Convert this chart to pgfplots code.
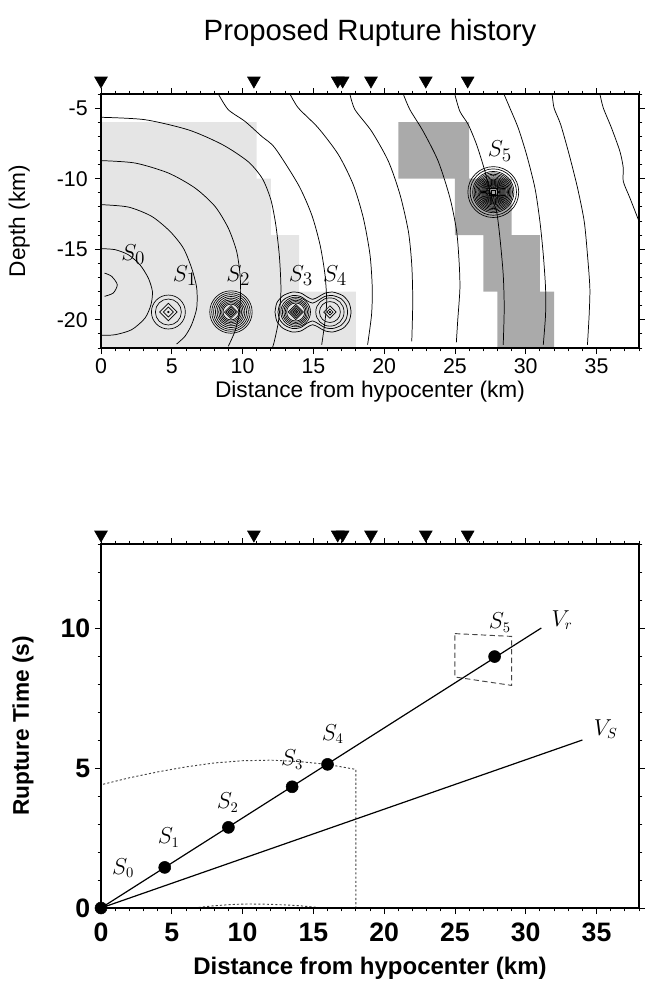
\documentclass[border=0pt]{standalone}
\usepackage[no-math]{fontspec}
\setmainfont{Liberation Sans}
\usepackage{pgfplots}
\pgfplotsset{compat=1.18}

\definecolor{lightslip}{HTML}{E5E5E5}
\definecolor{darkslip}{HTML}{AAAAAA}
\definecolor{guide}{HTML}{444444}

% 1 km = 10.6pt on both panels
\pgfplotsset{
  ring/.style={only marks, mark=o, black, mark options={line width=0.5pt}},
  diam/.style={only marks, mark=square, black, mark options={rotate=45, line width=0.5pt}},
  contour/.style={black, line width=0.55pt, smooth, tension=0.45},
  stations/.style={only marks, mark=triangle*, mark size=5.5pt, black,
    mark options={yshift=#1, rotate=180, fill=black}},
  frame/.style={
    scale only axis, width=403.5pt, clip=false, axis on top,
    xmin=0, xmax=38, xtick={0,5,...,35}, minor xtick={0,...,38},
    tick align=outside, major tick length=4.5pt, minor tick length=2.5pt,
    tick style={black, line width=0.6pt},
    axis line style={line width=0.8pt},
    /pgf/number format/assume math mode=true},
}

\begin{document}
\begin{tikzpicture}
\useasboundingbox (-75.75pt,261pt) rectangle (411.75pt,-476.25pt);

% ---------------- top panel: slip patches and rupture front ----------------
\begin{axis}[frame,
  at={(0,0)}, anchor=south west, height=190.5pt,
  ymin=-22, ymax=-4, ytick={-20,-15,-10,-5}, minor ytick={-22,...,-4},
  tick label style={font=\fontsize{16}{18}\selectfont},
  yticklabel style={xshift=-2pt},
  title={Proposed Rupture history},
  title style={font=\fontsize{22}{26}\selectfont, at={(axis description cs:0.5,1)},
    anchor=center, yshift=40pt},
  xlabel={Distance from hypocenter (km)},
  xlabel style={font=\fontsize{17}{20}\selectfont, at={(axis description cs:0.5,-0.17)}, anchor=center},
  ylabel={Depth (km)},
  ylabel style={font=\fontsize{17}{20}\selectfont, at={(axis description cs:-0.152,0.5)}, anchor=center},
]
% slip areas
\addplot[fill=lightslip, draw=none] coordinates {
  (0,-6)(11,-6)(11,-10)(12,-10)(12,-14)(14,-14)(14,-18)(18,-18)(18,-22)(0,-22)} -- cycle;
\addplot[fill=darkslip, draw=none] coordinates {
  (21,-6)(26,-6)(26,-10)(29,-10)(29,-14)(31,-14)(31,-18)(32,-18)(32,-22)
  (28,-22)(28,-18)(27,-18)(27,-14)(25,-14)(25,-10)(21,-10)} -- cycle;

% rupture time contours
\addplot[contour] coordinates {(0.25,-16.69)(0.75,-16.92)(1.15,-17.51)(0.87,-18.1)(0.25,-18.34)};
\addplot[contour] coordinates {(0,-14.96)(0.99,-15.03)(1.93,-15.39)(2.75,-16.1)(3.34,-17.04)(3.63,-17.99)
  (3.53,-18.93)(3.11,-19.88)(2.17,-20.7)(0.99,-21.06)(0,-21.1)};
\addplot[contour] coordinates {(0,-11.84)(1.93,-12.01)(3.58,-12.67)(4.87,-13.73)(5.81,-14.91)(6.4,-16.33)
  (6.76,-17.75)(6.76,-19.17)(6.4,-20.35)(5.93,-21.17)(5.34,-21.72)};
\addplot[contour] coordinates {(0,-8.72)(2.4,-8.89)(4.76,-9.6)(6.64,-10.66)(8.05,-11.96)(8.99,-13.5)
  (9.58,-15.15)(9.82,-16.8)(9.86,-18.22)(9.75,-19.64)(9.46,-20.82)(8.99,-21.88)};
\addplot[contour] coordinates {(0,-5.65)(3.1,-5.82)(6.2,-6.55)(8.6,-7.6)(10.4,-8.8)(11.4,-10.0)(12.0,-11.5)
  (12.35,-13.3)(12.6,-15.5)(12.71,-17.9)(12.55,-20.0)(12.25,-21.5)(12.1,-22)};
\addplot[contour] coordinates {(8.29,-4)(8.99,-5.11)(10.17,-5.94)(11.35,-7.0)(12.29,-7.83)(13.94,-10.43)
  (14.88,-12.55)(15.47,-14.68)(15.82,-16.8)(15.94,-18.69)(15.82,-20.11)(15.59,-21.77)};
\addplot[contour] coordinates {(13.35,-4)(13.94,-4.99)(15.35,-6.41)(16.77,-8.3)(17.82,-10.43)(18.53,-12.79)
  (19.0,-15.39)(19.16,-17.75)(19.11,-19.64)(18.83,-21.77)};
\addplot[contour] coordinates {(17.58,-4)(17.94,-5.11)(19.12,-6.65)(20.3,-8.77)(21.12,-11.13)(21.71,-13.73)
  (21.95,-16.1)(22.02,-18.69)(21.95,-21.53)};
\addplot[contour] coordinates {(21.35,-4)(21.82,-5.11)(22.76,-6.65)(23.82,-8.77)(24.65,-11.37)(25.12,-13.73)
  (25.3,-16)(25.35,-17.8)(25.2,-20)(25.1,-21.6)};
\addplot[contour] coordinates {(25.0,-4.05)(25.35,-5.23)(25.94,-6.17)(26.53,-7.59)(27.12,-9.48)(27.59,-11.37)
  (27.94,-12.32)(28.18,-14.21)(28.41,-16.8)(28.48,-19.17)(28.41,-21.77)};
\addplot[contour] coordinates {(28.48,-4.05)(28.88,-4.99)(29.47,-6.41)(30.06,-8.3)(30.65,-10.66)(31.0,-13.02)
  (31.24,-15.39)(31.4,-17.75)(31.4,-19.64)(31.24,-21.77)};
\addplot[contour] coordinates {(31.87,-4)(32.0,-4.99)(32.47,-6.17)(33.07,-8.3)(33.66,-10.66)(34.13,-13.02)
  (34.36,-15.39)(34.53,-17.75)(34.48,-19.64)(34.36,-21.77)};
\addplot[contour] coordinates {(35.24,-4)(35.48,-4.99)(36.06,-6.41)(36.65,-8.06)(36.89,-9.24)(36.89,-10.19)
  (37.36,-11.37)(38.0,-13.02)};

% slip contours of the subevents (ring radii in km)
\pgfplotsinvokeforeach{1.2,0.92}{
  \addplot[ring, mark size=10.6*#1] coordinates {(4.76,-19.45)};}
\pgfplotsinvokeforeach{0.62,0.35}{
  \addplot[diam, mark size=7.5*#1] coordinates {(4.76,-19.45)};}
\pgfplotsinvokeforeach{1.5,1.36,1.23,1.1,0.98,0.87,0.76,0.66,0.56}{
  \addplot[ring, mark size=10.6*#1] coordinates {(9.18,-19.45)};}
\pgfplotsinvokeforeach{0.46,0.34,0.22,0.1}{
  \addplot[diam, mark size=7.5*#1] coordinates {(9.18,-19.45)};}
\pgfplotsinvokeforeach{1.05,0.94,0.84,0.74,0.64}{
  \addplot[ring, mark size=10.6*#1] coordinates {(13.75,-19.45)};}
\pgfplotsinvokeforeach{0.54,0.42,0.3,0.18,0.08}{
  \addplot[diam, mark size=7.5*#1] coordinates {(13.75,-19.45)};}
\pgfplotsinvokeforeach{1.0,0.74}{
  \addplot[ring, mark size=10.6*#1] coordinates {(16.17,-19.45)};}
\pgfplotsinvokeforeach{0.44,0.22}{
  \addplot[diam, mark size=7.5*#1] coordinates {(16.17,-19.45)};}
\pgfplotsinvokeforeach{1.8,1.64,1.46,1.36,1.26,1.17,1.08,1.0,0.92,0.84,0.77,0.7,0.63,0.56,0.5,0.44,0.38,0.32}{
  \addplot[ring, mark size=10.6*#1] coordinates {(27.71,-10.95)};}
\pgfplotsinvokeforeach{0.25,0.15}{
  \addplot[only marks, mark=square, black, mark options={line width=0.5pt}, mark size=10.6*#1]
    coordinates {(27.71,-10.95)};}
\addplot[only marks, mark=*, mark size=0.6pt, black] coordinates {(4.76,-19.45)(16.17,-19.45)};
\addplot[contour] coordinates {(12.29,-19.45)(12.42,-18.8)(12.85,-18.3)(13.5,-18.04)(14.1,-18.1)(14.6,-18.4)
  (14.95,-18.55)(15.35,-18.38)(15.8,-18.12)(16.4,-18.04)(17.1,-18.3)(17.52,-18.8)(17.66,-19.45)
  (17.52,-20.1)(17.1,-20.6)(16.4,-20.86)(15.8,-20.78)(15.35,-20.52)(14.95,-20.35)(14.6,-20.5)
  (14.1,-20.8)(13.5,-20.86)(12.85,-20.6)(12.42,-20.1)(12.29,-19.45)};
\addplot[contour] coordinates {(12.5,-19.45)(12.62,-18.92)(13.0,-18.5)(13.55,-18.28)(14.1,-18.35)(14.55,-18.65)
  (14.95,-18.82)(15.35,-18.62)(15.8,-18.35)(16.35,-18.28)(16.95,-18.5)(17.3,-18.92)(17.42,-19.45)
  (17.3,-19.98)(16.95,-20.4)(16.35,-20.62)(15.8,-20.55)(15.35,-20.28)(14.95,-20.08)(14.55,-20.25)
  (14.1,-20.55)(13.55,-20.62)(13.0,-20.4)(12.62,-19.98)(12.5,-19.45)};

% stations
\addplot[stations=10pt] coordinates {(0,-4)(10.8,-4)(16.72,-4)(17.07,-4)(19.07,-4)(22.94,-4)(25.9,-4)};

\begin{scope}[font=\fontsize{19}{22}\selectfont]
\node at (axis cs:2.28,-15.39) {$S_0$};
\node at (axis cs:5.93,-16.87) {$S_1$};
\node at (axis cs:9.7,-16.87) {$S_2$};
\node at (axis cs:14.12,-16.87) {$S_3$};
\node at (axis cs:16.53,-16.87) {$S_4$};
\node at (axis cs:28.18,-8.06) {$S_5$};
\end{scope}
\end{axis}

% ---------------- bottom panel: rupture time vs distance ----------------
\begin{axis}[frame,
  at={(0,-420pt)}, anchor=south west, height=273pt,
  ymin=0, ymax=13, ytick={0,5,10}, minor ytick={0,...,13},
  axis line style={line width=1.1pt},
  tick label style={font=\fontsize{20}{22}\selectfont\bfseries},
  xticklabel style={yshift=-3pt},
  xlabel={Distance from hypocenter (km)},
  xlabel style={font=\fontsize{18}{21}\selectfont\bfseries, at={(axis description cs:0.5,-0.165)}, anchor=center},
  ylabel={Rupture Time (s)},
  ylabel style={font=\fontsize{17}{20}\selectfont\bfseries, at={(axis description cs:-0.145,0.5)}, anchor=center},
]
% fault-zone outline for the first subevents
\addplot[guide, line width=0.7pt, dash pattern=on 1.6pt off 1.6pt] coordinates {
  (0.15,4.42)(2,4.65)(4,4.86)(6,5.04)(8,5.18)(10,5.26)(12,5.28)(14,5.23)(16,5.13)(18,4.95)(18,0)};
\addplot[guide, line width=0.7pt, dash pattern=on 1.6pt off 1.6pt, smooth] coordinates {
  (6.6,0)(8,0.08)(10,0.14)(12,0.13)(14,0.08)(15.7,0)};
\addplot[guide, line width=0.7pt, dash pattern=on 4pt off 2.5pt] coordinates {
  (25,9.8)(29,9.7)(29,7.95)(25,8.25)(25,9.8)};
% velocities
\addplot[black, line width=0.9pt] coordinates {(0,0)(31.1,10.0)};
\addplot[black, line width=0.9pt] coordinates {(0,0)(34,6.0)};
% subevents
\addplot[only marks, mark=*, mark size=4.5pt, black] coordinates {
  (0,0)(4.5,1.45)(9,2.88)(13.5,4.33)(16,5.13)(27.8,8.98)};
% stations
\addplot[stations=7pt] coordinates {(0,13)(10.8,13)(16.72,13)(17.07,13)(19.07,13)(22.94,13)(25.9,13)};

\begin{scope}[font=\fontsize{16}{19}\selectfont]
\node at (axis cs:1.56,1.42) {$S_0$};
\node at (axis cs:4.78,2.52) {$S_1$};
\node at (axis cs:8.95,3.77) {$S_2$};
\node at (axis cs:13.5,5.3) {$S_3$};
\node at (axis cs:16.37,6.21) {$S_4$};
\node at (axis cs:28.17,10.2) {$S_5$};
\node at (axis cs:32.57,10.29) {$V_r$};
\node at (axis cs:35.65,6.39) {$V_S$};
\end{scope}
\end{axis}
\end{tikzpicture}
\end{document}
